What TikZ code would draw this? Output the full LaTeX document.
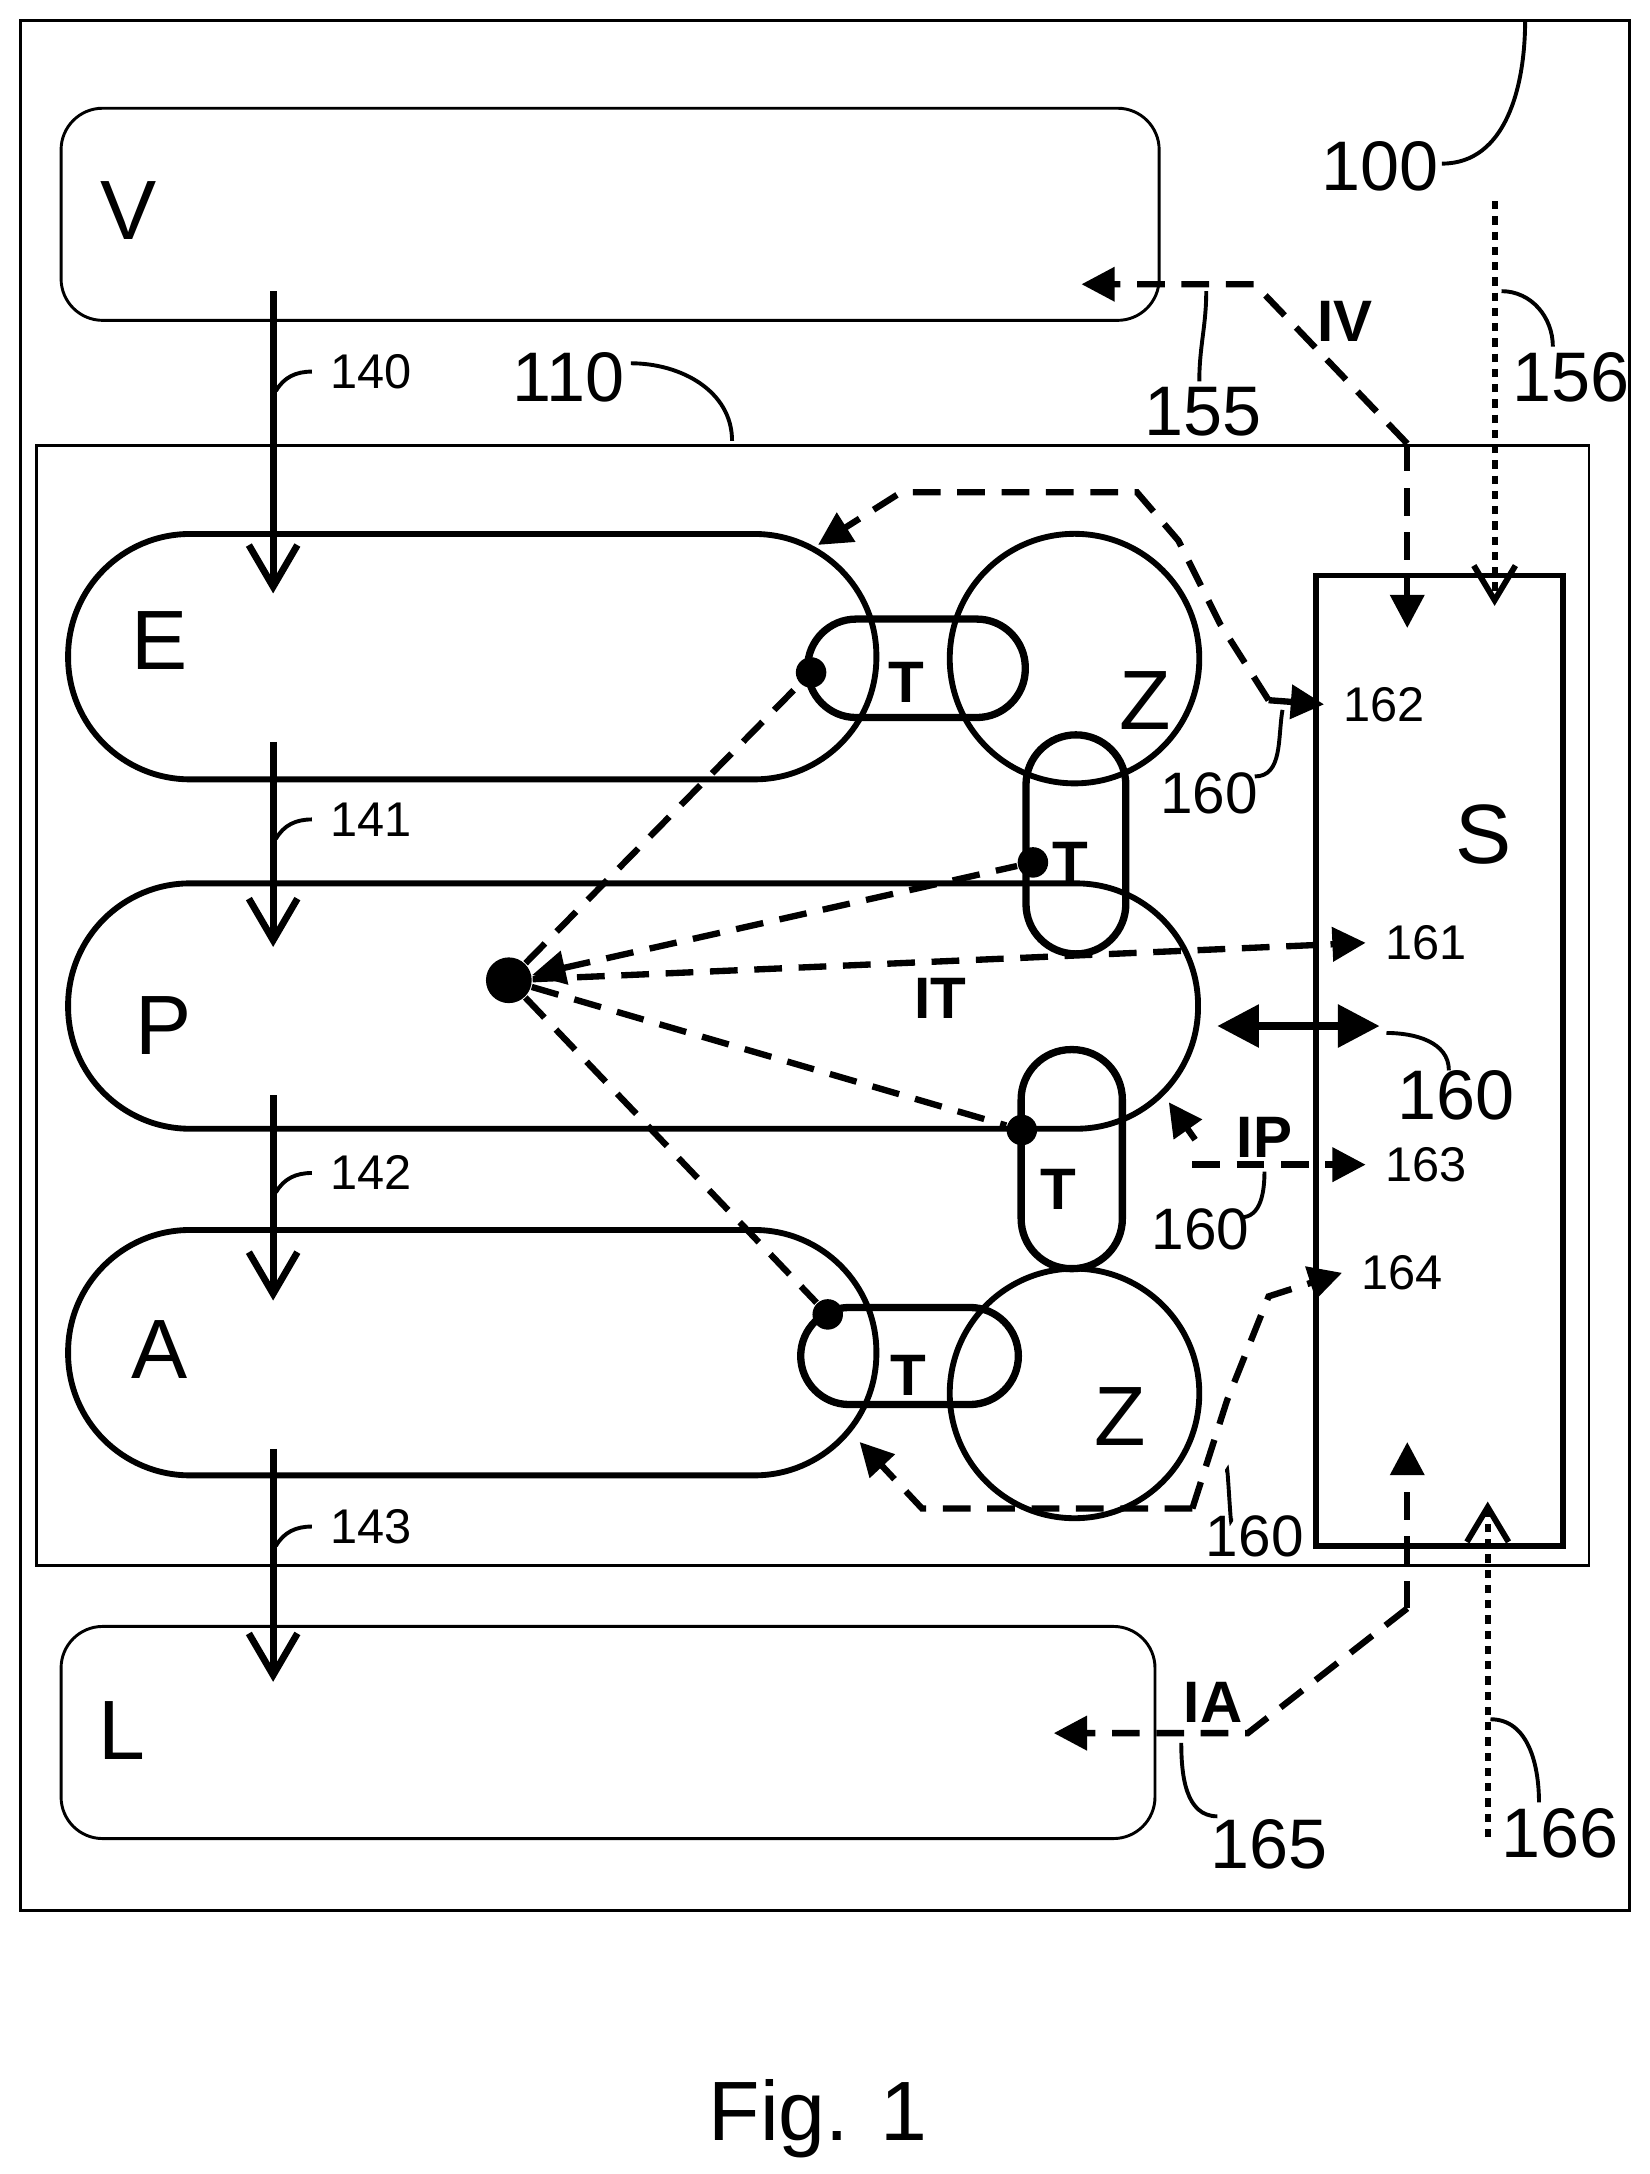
\documentclass[tikz,border=0pt]{standalone}
\usepackage{fontspec}
\setmainfont{Liberation Sans}
\usetikzlibrary{arrows.meta}
\tikzstyle{arrow} = [-{Straight Barb[length=3mm,width=3.5mm]}, line width=1.4pt]
\tikzstyle{darrow} = [-{Triangle[length=2.4mm,width=2.4mm]}, line width=1.3pt, dash pattern=on 2mm off 1.2mm]
\tikzstyle{dotarrow} = [-{Straight Barb[length=2.5mm,width=3mm]}, line width=1.2pt, dash pattern=on 0.6mm off 0.5mm]
\tikzstyle{box} = [draw, line width=0.6pt, rounded corners=3mm, anchor=north west, inner sep=0pt]
\tikzstyle{stadium} = [draw, line width=1.2pt, rounded corners=8.8mm, anchor=north west, inner sep=0pt, minimum height=17.7mm]
\tikzstyle{capsule} = [draw, line width=1.5pt, inner sep=0pt]
\tikzstyle{lead} = [line width=0.8pt]
\tikzstyle{dotn} = [circle, fill, inner sep=0pt, minimum size=2.2mm]
\begin{document}
\begin{tikzpicture}[x=0.1mm, y=-0.1mm, font=\Large]
		\useasboundingbox (0,0) rectangle (1190,1568);
		\draw [line width=0.6pt] (15,15) rectangle (1175,1378);
		\node (frame) [box, rounded corners=0pt, minimum width=112mm, minimum height=80.8mm] at (25,320) {};
		
		\node (V) [box, minimum width=79.2mm, minimum height=15.3mm] at (43,77) {};
		\node (L) [box, minimum width=78.9mm, minimum height=15.3mm] at (43,1172) {};
		\node (E) [stadium, minimum width=58.3mm] at (47,383) {};
		\node (P) [stadium, minimum width=81.5mm] at (47,635) {};
		\node (A) [stadium, minimum width=58.3mm] at (47,885) {};
		\node (S) [box, rounded corners=0pt, line width=1.2pt, minimum width=17.8mm, minimum height=70mm] at (947,413) {};
		\node (Z1) [draw, circle, line width=1.2pt, minimum size=18mm] at (775,475) {};
		\node (Z2) [draw, circle, line width=1.2pt, minimum size=18mm] at (775,1005) {};
		\node (T1) [capsule, rounded corners=3.5mm, minimum width=15.7mm, minimum height=7.1mm] at (661,482) {};
		\node (T2) [capsule, rounded corners=3.6mm, minimum width=7.2mm, minimum height=15.8mm] at (776,609) {};
		\node (T3) [capsule, rounded corners=3.6mm, minimum width=7.3mm, minimum height=15.8mm] at (773,836) {};
		\node (T4) [capsule, rounded corners=3.5mm, minimum width=15.7mm, minimum height=7.0mm] at (656,978) {};
		
		\node at (93,152) {\LARGE V};
		\node at (115,462) {\LARGE E};
		\node at (118,740) {\LARGE P};
		\node at (115,973) {\LARGE A};
		\node at (88,1248) {\LARGE L};
		\node at (1070,602) {\LARGE S};
		\node at (826,505) {\LARGE Z};
		\node at (808,1022) {\LARGE Z};
		\node [font=\large\bfseries] at (654,492) {T};
		\node [font=\large\bfseries] at (772,622) {T};
		\node [font=\large\bfseries] at (763,858) {T};
		\node [font=\large\bfseries] at (655,992) {T};
		\node [font=\large\bfseries] at (678,720) {IT};
		\node [font=\large\bfseries] at (912,820) {IP};
		\node [font=\large\bfseries] at (970,232) {IV};
		\node [font=\large\bfseries] at (875,1228) {IA};
		\node at (590,1528) {\LARGE Fig. 1};
		
		% small dots and hub
		\node (hub) [dotn, minimum size=3.3mm] at (367,707) {};
		\node (d1) [dotn] at (585,485) {};
		\node (d2) [dotn] at (745,622) {};
		\node (d3) [dotn] at (737,815) {};
		\node (d4) [dotn] at (597,948) {};
		\draw [darrow, -] (hub) -- (d1);
		\draw [darrow, -] (hub) -- (d4);
		\draw [darrow, {Triangle[length=2.4mm,width=2.4mm]}-] (hub) -- (d2);
		\draw [darrow, -] (hub) -- (d3);
		\draw [darrow] (hub) -- (985,680) node (n161) [right, font=\normalsize] {161};
		
		% main flow
		\draw [arrow] (197,210) -- (197,428);
		\draw [arrow] (197,535) -- (197,683);
		\draw [arrow] (197,790) -- (197,938);
		\draw [arrow] (197,1045) -- (197,1213);
		\draw [lead] (199,282) to[out=60,in=180] (225,268) node [right, font=\normalsize] {140};
		\draw [lead] (199,605) to[out=60,in=180] (225,591) node [right, font=\normalsize] {141};
		\draw [lead] (199,860) to[out=60,in=180] (225,846) node [right, font=\normalsize] {142};
		\draw [lead] (199,1115) to[out=60,in=180] (225,1101) node [right, font=\normalsize] {143};
		
		% interfaces
		\coordinate (iv) at (1015,320);
		\draw [darrow] (iv) -- (905,205) -- (780,205);
		\draw [darrow] (iv) -- (1015,453);
		\draw [dotarrow] (1078,145) -- (1078,437);
		\draw [darrow] (915,505) -- (880,450) -- (850,390) -- (820,355) -- (650,355) -- (590,393);
		\draw [darrow] (915,505) -- (955,508) node [right, font=\normalsize] {162};
		\draw [darrow] (860,840) -- (985,840) node [right, font=\normalsize] {163};
		\draw [darrow] (862,822) -- (843,795);
		\draw [{Triangle[length=3mm,width=3mm]}-{Triangle[length=3mm,width=3mm]}, line width=1.5pt] (878,740) -- (995,740);
		\draw [darrow] (860,1088) -- (665,1088) -- (620,1040);
		\draw [darrow] (860,1088) -- (885,1010) -- (915,935) -- (968,918) node [right, font=\normalsize] {164};
		\coordinate (ia) at (1015,1160);
		\draw [darrow] (ia) -- (1015,1040);
		\draw [darrow] (ia) -- (900,1250) -- (760,1250);
		\draw [dotarrow] (1073,1325) -- (1073,1083);
		
		% reference numerals
		\draw [lead] (1040,118) to[out=0,in=-90] (1100,15);
		\node at (995,120) {\Large 100};
		\draw [lead] (455,262) to[out=0,in=90] (528,318);
		\node at (410,272) {\Large 110};
		\draw [lead] (870,210) to[out=-90,in=90] (865,275);
		\node at (868,297) {\Large 155};
		\draw [lead] (1083,210) to[out=0,in=90] (1120,250);
		\node at (1133,272) {\Large 156};
		\draw [lead] (905,560) to[out=0,in=-100] (925,512);
		\node at (872,572) {\large 160};
		\draw [lead] (1000,745) to[out=0,in=90] (1045,772);
		\node at (1050,790) {\Large 160};
		\draw [lead] (895,878) to[out=0,in=-90] (912,845);
		\node at (866,887) {\large 160};
		\draw [lead] (888,1095) to[out=-90,in=90] (885,1062);
		\node at (905,1108) {\large 160};
		\draw [lead] (852,1257) to[out=-90,in=180] (878,1310);
		\node at (915,1330) {\Large 165};
		\draw [lead] (1075,1240) to[out=0,in=90] (1110,1300);
		\node at (1125,1322) {\Large 166};
	\end{tikzpicture}
\end{document}
